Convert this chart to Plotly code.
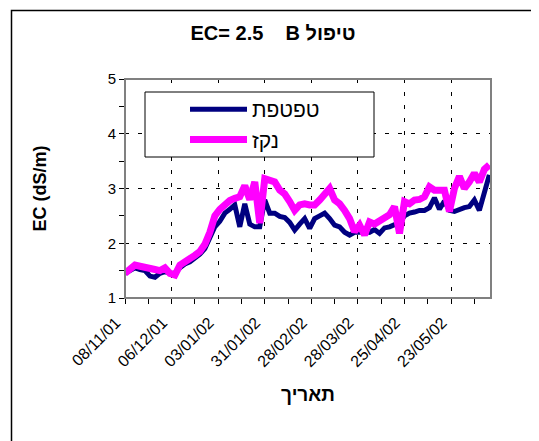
import pandas as pd
import plotly.graph_objects as go

# ---- data ----
start_date = "2001-11-08"
n_points = 74  # one reading every 3 days
dates = pd.date_range(start_date, periods=n_points, freq="3D")

tiftefet = [1.45, 1.50, 1.55, 1.52, 1.50, 1.40, 1.38, 1.45, 1.48, 1.45,
            1.45, 1.55, 1.62, 1.66, 1.72, 1.80, 1.90, 2.10, 2.30, 2.40,
            2.55, 2.62, 2.70, 2.30, 2.72, 2.35, 2.30, 2.30, 2.79, 2.55,
            2.55, 2.49, 2.47, 2.38, 2.24, 2.35, 2.45, 2.27, 2.45, 2.50,
            2.55, 2.45, 2.33, 2.30, 2.20, 2.15, 2.20, 2.20, 2.22, 2.20,
            2.25, 2.18, 2.28, 2.30, 2.35, 2.38, 2.50, 2.55, 2.57, 2.60,
            2.60, 2.65, 2.83, 2.62, 2.77, 2.60, 2.58, 2.62, 2.65, 2.67,
            2.79, 2.60, 2.90, 3.25]

nekez = [1.45, 1.52, 1.60, 1.58, 1.55, 1.53, 1.52, 1.50, 1.55, 1.45,
         1.42, 1.60, 1.65, 1.72, 1.78, 1.85, 1.98, 2.20, 2.50, 2.62,
         2.72, 2.78, 2.82, 2.85, 3.05, 2.80, 3.12, 2.37, 3.18, 3.16,
         3.12, 2.97, 2.90, 2.76, 2.60, 2.70, 2.72, 2.70, 2.70, 2.79,
         2.90, 3.00, 2.79, 2.72, 2.60, 2.45, 2.21, 2.33, 2.15, 2.39,
         2.35, 2.42, 2.45, 2.52, 2.67, 2.18, 2.76, 2.72, 2.79, 2.80,
         2.85, 3.03, 2.97, 2.98, 2.97, 2.58, 3.00, 3.22, 3.00, 3.12,
         3.28, 3.12, 3.35, 3.43]

series_names = ["טפטפת", "נקז"]
title_text = "EC= 2.5\u00a0\u00a0\u00a0\u00a0B טיפול"
x_title = "תאריך"
y_title = "EC (dS/m)"
x_range = ["2001-11-08", "2002-06-16"]
y_range = [1, 5]

DAY_MS = 86400000

# ---- figure (page body has an 8px margin, so work in shifted coords) ----
OFF = 8
W, H = 539 - OFF, 441 - OFF
L, R, T, B = 125 - OFF, 48, 79 - OFF, 143
pw, ph = W - L - R, H - T - B


def px_x(px):
    return (px - OFF - L) / pw


def px_y(py):
    return (H - B - (py - OFF)) / ph


FONT = "Arial, 'Liberation Sans', sans-serif"

fig = go.Figure()
fig.add_trace(go.Scatter(x=dates, y=tiftefet, mode="lines", name=series_names[0],
                         line=dict(color="#000080", width=5)))
fig.add_trace(go.Scatter(x=dates, y=nekez, mode="lines", name=series_names[1],
                         line=dict(color="#FF00FF", width=7)))

fig.update_layout(
    width=W, height=H,
    margin=dict(l=L, r=R, t=T, b=B, pad=0),
    paper_bgcolor="white", plot_bgcolor="white",
    font=dict(family=FONT, color="black", size=15),
    title=dict(text=title_text, x=(273 - OFF) / W, xref="container", xanchor="center",
               y=1 - (33 - OFF) / H, yref="container", yanchor="middle",
               font=dict(size=20, family=FONT, weight="bold")),
    showlegend=True,
    legend=dict(x=px_x(185), y=px_y(89), xanchor="left", yanchor="top",
                bgcolor="rgba(0,0,0,0)", borderwidth=0, itemwidth=57,
                font=dict(size=21, family=FONT), tracegroupgap=0),
    xaxis=dict(
        type="date", range=x_range,
        tick0=start_date, dtick=28 * DAY_MS, tickformat="%d/%m/%y",
        tickangle=-45, ticks="outside", ticklen=5, tickcolor="black",
        tickfont=dict(size=16, family=FONT),
        ticklabelshift=-9, ticklabelstandoff=3,
        showgrid=True, gridcolor="black", griddash="4px,9px", gridwidth=1,
        minor=dict(tick0=start_date, dtick=14 * DAY_MS, ticks="outside",
                   ticklen=5, tickcolor="black", showgrid=False),
        showline=True, linecolor="black", linewidth=1, zeroline=False,
        title=dict(text=x_title, standoff=18,
                   font=dict(size=19, family=FONT, weight="bold")),
    ),
    yaxis=dict(
        range=y_range, dtick=1, tick0=1,
        ticks="outside", ticklen=5, tickcolor="black",
        tickfont=dict(size=15, family=FONT),
        showgrid=True, gridcolor="black", griddash="4px,9px", gridwidth=1,
        minor=dict(dtick=0.5, ticks="outside", ticklen=5, tickcolor="black",
                   showgrid=False),
        showline=True, linecolor="black", linewidth=1, zeroline=False,
        title=dict(text=y_title, standoff=56,
                   font=dict(size=18, family=FONT, weight="bold")),
    ),
    shapes=[
        # plot area border (grey)
        dict(type="rect", xref="paper", yref="paper", x0=0, x1=1, y0=0, y1=1,
             line=dict(color="#808080", width=2), layer="above"),
        # legend frame
        dict(type="rect", xref="paper", yref="paper",
             x0=px_x(145), x1=px_x(374), y0=px_y(157), y1=px_y(92),
             fillcolor="white", line=dict(color="black", width=1), layer="above"),
        # outer chart border
        dict(type="rect", xref="paper", yref="paper",
             x0=px_x(11.5), x1=px_x(537), y0=px_y(450), y1=px_y(10.5),
             line=dict(color="black", width=1.5), layer="above"),
    ],
)

fig.write_html("out.html")
